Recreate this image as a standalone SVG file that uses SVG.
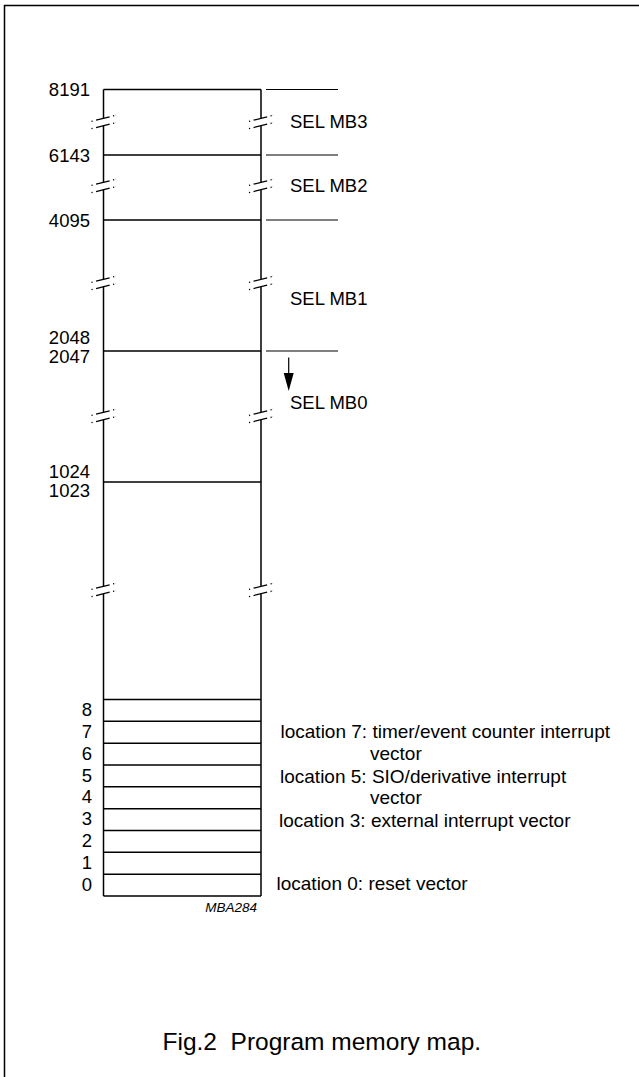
<svg xmlns="http://www.w3.org/2000/svg" xmlns:xlink="http://www.w3.org/1999/xlink" width="639" height="1077" viewBox="0 0 639 1077">
<style>
.ln{stroke:#000;stroke-width:1.5;fill:none}
.tk{stroke:#000;stroke-width:1.2;fill:none}
.t{font-family:"Liberation Sans",Arial,sans-serif;font-size:18.5px;fill:#000}
.n{font-size:19px}
.r{text-anchor:end}
.br{stroke:#000;stroke-width:1.3;fill:none;stroke-dasharray:1.2 3.5 14 3.5 1.2}
</style>
<defs>
<g id="brk">
<line class="br" x1="-12" y1="-0.7" x2="12" y2="-6.7"/>
<line class="br" x1="-12" y1="6.7" x2="12" y2="0.7"/>
</g>
</defs>
<rect width="639" height="1077" fill="#fff"/>
<g id="frame"><path class="ln" d="M4.5,1077 V5.5 H640" stroke-width="2"/></g>

<g id="memory-column">
<path class="ln" d="M103.5,89.5 H261 M103.5,155 H261 M103.5,220 H261 M103.5,351 H261 M103.5,482 H261"/>
<path class="ln" d="M103.5,89.5 V118.5 M103.5,125.5 V182.5 M103.5,189.5 V279.5 M103.5,286.5 V412.5 M103.5,419.5 V586.5 M103.5,593.5 V896"/>
<path class="ln" d="M261,89.5 V118.5 M261,125.5 V182.5 M261,189.5 V279.5 M261,286.5 V412.5 M261,419.5 V586.5 M261,593.5 V896"/>
<use xlink:href="#brk" x="103.5" y="122"/>
<use xlink:href="#brk" x="103.5" y="186"/>
<use xlink:href="#brk" x="103.5" y="283"/>
<use xlink:href="#brk" x="103.5" y="416"/>
<use xlink:href="#brk" x="103.5" y="590"/>
<use xlink:href="#brk" x="261" y="122"/>
<use xlink:href="#brk" x="261" y="186"/>
<use xlink:href="#brk" x="261" y="283"/>
<use xlink:href="#brk" x="261" y="416"/>
<use xlink:href="#brk" x="261" y="590"/>
<path class="ln" d="M103.5,699.5 H261 M103.5,721.3 H261 M103.5,743.2 H261 M103.5,765 H261 M103.5,786.8 H261 M103.5,808.7 H261 M103.5,830.5 H261 M103.5,852.3 H261 M103.5,874.2 H261 M103.5,896 H261"/>
</g>

<g id="address-labels">
<text class="t r" x="90" y="96">8191</text>
<text class="t r" x="90" y="161.5">6143</text>
<text class="t r" x="90" y="226.5">4095</text>
<text class="t r" x="90" y="344">2048</text>
<text class="t r" x="90" y="363">2047</text>
<text class="t r" x="90" y="477.5">1024</text>
<text class="t r" x="90" y="496.5">1023</text>
<text class="t r" x="92" y="716">8</text>
<text class="t r" x="92" y="737.8">7</text>
<text class="t r" x="92" y="759.7">6</text>
<text class="t r" x="92" y="781.5">5</text>
<text class="t r" x="92" y="803.3">4</text>
<text class="t r" x="92" y="825.2">3</text>
<text class="t r" x="92" y="847">2</text>
<text class="t r" x="92" y="868.8">1</text>
<text class="t r" x="92" y="890.7">0</text>
</g>

<g id="bank-selects">
<path class="tk" d="M266,89.5 H338 M266,155 H338 M266,220 H338 M266,351 H338"/>
<text class="t" x="290" y="127.5">SEL MB3</text>
<text class="t" x="290" y="191.5">SEL MB2</text>
<text class="t" x="290" y="304.5">SEL MB1</text>
<text class="t" x="290" y="409">SEL MB0</text>
</g>

<g id="connectors">
<line class="tk" x1="288.7" y1="357.5" x2="288.7" y2="375"/>
<path d="M283.7,373 L293.7,373 L288.7,391 Z" fill="#000"/>
</g>

<g id="vector-notes">
<text class="t n" x="280.5" y="738">location 7: timer/event counter interrupt</text>
<text class="t n" x="370" y="760">vector</text>
<text class="t n" x="280" y="782.5">location 5: SIO/derivative interrupt</text>
<text class="t n" x="370" y="804.3">vector</text>
<text class="t n" x="279" y="826.5">location 3: external interrupt vector</text>
<text class="t n" x="276.5" y="890">location 0: reset vector</text>
</g>

<text id="code" class="t" x="257" y="911.5" text-anchor="end" font-style="italic" style="font-size:13.5px">MBA284</text>
<text id="caption" class="t" x="162.5" y="1050" style="font-size:24.5px;white-space:pre" xml:space="preserve">Fig.2  Program memory map.</text>
</svg>
